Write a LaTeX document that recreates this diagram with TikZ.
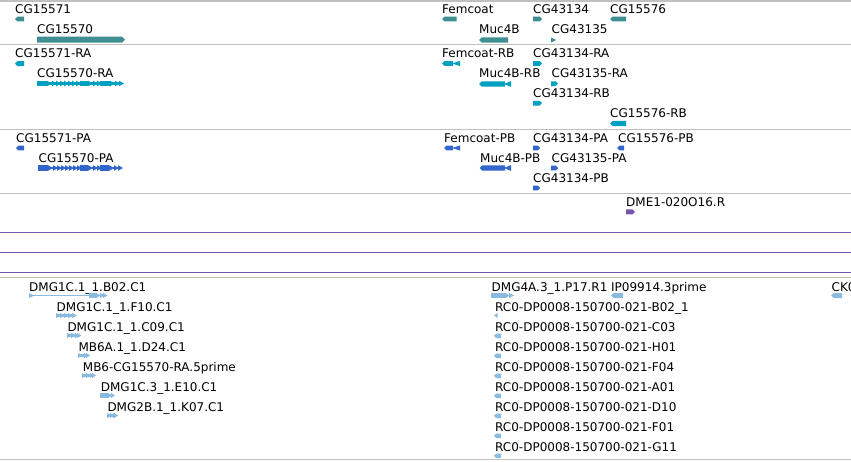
\documentclass[tikz,border=0pt]{standalone}
\usepackage{fontspec}
\setmainfont{DejaVu Sans}
\definecolor{gteal}{RGB}{62,142,146}
\definecolor{tcyan}{RGB}{0,160,192}
\definecolor{pblue}{RGB}{51,102,204}
\definecolor{mpurp}{RGB}{119,85,170}
\definecolor{estb}{RGB}{136,187,221}
\definecolor{sepg}{RGB}{192,192,192}
% right arrow: color, x1, x2, ymid, halfheight
\newcommand\rarr[5]{\fill[#1] (#2,#4-#5) -- (#3-#5,#4-#5) -- (#3,#4) -- (#3-#5,#4+#5) -- (#2,#4+#5) -- cycle;}
\newcommand\larr[5]{\fill[#1] (#3,#4-#5) -- (#2+#5,#4-#5) -- (#2,#4) -- (#2+#5,#4+#5) -- (#3,#4+#5) -- cycle;}
\newcommand\rtri[5]{\fill[#1] (#2,#4-#5) -- (#3,#4) -- (#2,#4+#5) -- cycle;}
\newcommand\ltri[5]{\fill[#1] (#3,#4-#5) -- (#2,#4) -- (#3,#4+#5) -- cycle;}
\newcommand\gblk[5]{\fill[#1] (#2,#4-#5) rectangle (#3,#4+#5);}
% chevrons: color, list of x, width, ymid, halfheight
\newcommand\chevs[5]{\foreach \xx in {#2}{\fill[#1] (\xx,#4-#5) -- (\xx+#3,#4) -- (\xx,#4+#5) -- cycle;}}
\begin{document}
\begin{tikzpicture}[x=1pt,y=-1pt,
  lbl/.style={anchor=base west, inner sep=0pt, font=\fontsize{12}{14}\selectfont},
  sepline/.style={draw=sepg, line width=1.2pt},
  pline/.style={draw=mpurp, line width=1.3pt}]
\clip (0,0) rectangle (851,461);
\fill[white] (0,0) rectangle (851,461);
% separators
\draw[sepline] (0,1) -- (851,1);
\draw[sepline] (0,44.5) -- (851,44.5);
\draw[sepline] (0,129.5) -- (851,129.5);
\draw[sepline] (0,193.5) -- (851,193.5);
\draw[pline] (0,232.3) -- (851,232.3);
\draw[pline] (0,252.3) -- (851,252.3);
\draw[pline] (0,272.3) -- (851,272.3);
\draw[sepline] (0,277.3) -- (851,277.3);
\draw[sepline] (0,459.5) -- (851,459.5);

% ---------- gene track ----------
\node[lbl] (g1) at (15,13.5) {CG15571};
\larr{gteal}{15}{24}{19}{2.3}
\node[lbl] (g2) at (37,33.5) {CG15570};
\rarr{gteal}{37}{125}{39.7}{3}
\node[lbl] (g3) at (442,13.5) {Femcoat};
\larr{gteal}{442}{456.5}{19}{2.3}
\node[lbl] (g4) at (479,33.5) {Muc4B};
\larr{gteal}{479}{508}{40}{2.7}
\node[lbl] (g5) at (533,13.5) {CG43134};
\rarr{gteal}{533}{542}{19}{2.3}
\node[lbl] (g6) at (551.5,33.5) {CG43135};
\rtri{gteal}{551}{556}{40}{2.5}
\node[lbl] (g7) at (610,13.5) {CG15576};
\larr{gteal}{610}{626}{19}{2.3}

% ---------- transcript track ----------
\node[lbl] (t1) at (15,57.5) {CG15571-RA};
\larr{tcyan}{15}{24}{63.5}{2.5}
\node[lbl] (t2) at (37,77.5) {CG15570-RA};
\gblk{tcyan}{37}{121}{83.5}{1.2}
\gblk{tcyan}{37}{47}{83.5}{2.8}
\gblk{tcyan}{80}{88}{83.5}{2.8}
\gblk{tcyan}{100}{110}{83.5}{2.8}
\chevs{tcyan}{47,52,56,60,64,68,72,76,88,93,97,110,115,119}{5}{83.5}{2.8}
\node[lbl] (t3) at (442,57.5) {Femcoat-RB};
\larr{tcyan}{442}{453}{63.5}{2.4}
\ltri{tcyan}{452}{460}{63.5}{2.6}
\node[lbl] (t4) at (479,77.5) {Muc4B-RB};
\larr{tcyan}{479}{505}{84}{2.7}
\ltri{tcyan}{504}{511}{84}{2.9}
\node[lbl] (t5) at (533,57.5) {CG43134-RA};
\rarr{tcyan}{533}{542}{63.5}{2.4}
\node[lbl] (t6) at (551.5,77.5) {CG43135-RA};
\rarr{tcyan}{551}{558}{83.7}{2.4}
\node[lbl] (t7) at (533,97.5) {CG43134-RB};
\rarr{tcyan}{533}{542}{103.2}{2.4}
\node[lbl] (t8) at (610,117.5) {CG15576-RB};
\larr{tcyan}{610}{626}{123.5}{2.7}

% ---------- protein track ----------
\node[lbl] (p1) at (16,142) {CG15571-PA};
\larr{pblue}{16}{24}{148}{2.4}
\node[lbl] (p2) at (38.5,162) {CG15570-PA};
\gblk{pblue}{38}{120}{168}{1.2}
\gblk{pblue}{38}{48}{168}{2.8}
\gblk{pblue}{80}{88}{168}{2.8}
\gblk{pblue}{100}{109}{168}{2.8}
\chevs{pblue}{48,53,57,61,65,69,73,77,88,93,97,109,114,118}{5}{168}{2.8}
\node[lbl] (p3) at (444,142) {Femcoat-PB};
\larr{pblue}{444}{453}{148}{2.4}
\ltri{pblue}{452}{460}{148}{2.6}
\node[lbl] (p4) at (480,162) {Muc4B-PB};
\larr{pblue}{479.5}{505}{168}{2.7}
\ltri{pblue}{504}{511}{168}{2.9}
\node[lbl] (p5) at (533,142) {CG43134-PA};
\rarr{pblue}{533}{540}{148}{2.4}
\node[lbl] (p6) at (618,142) {CG15576-PB};
\larr{pblue}{617}{624}{148}{2.4}
\node[lbl] (p7) at (551.5,162) {CG43135-PA};
\rarr{pblue}{551}{558}{168}{2.4}
\node[lbl] (p8) at (533,182) {CG43134-PB};
\rarr{pblue}{533}{540}{188}{2.4}

% ---------- DME1 track ----------
\node[lbl] (d1) at (626,206) {DME1-020O16.R};
\rarr{mpurp}{626}{635}{211.8}{2.5}

% ---------- EST track ----------
\node[lbl] (e1) at (29,291) {DMG1C.1\_1.B02.C1};
\draw[estb, line width=1pt] (29,295.5) -- (105,295.5);
\rtri{estb}{29}{34}{295.5}{2.5}
\gblk{estb}{89}{96}{295.5}{2.5}
\chevs{estb}{96,100,103}{4.5}{295.5}{2.6}
\node[lbl] (e2) at (56.5,311) {DMG1C.1\_1.F10.C1};
\gblk{estb}{56}{74}{315.5}{1.2}
\chevs{estb}{56,60,64,68,72}{5}{315.5}{2.6}
\node[lbl] (e3) at (67.3,331) {DMG1C.1\_1.C09.C1};
\gblk{estb}{67}{78}{335.5}{1.2}
\chevs{estb}{67,71,75,77}{4.5}{335.5}{2.6}
\node[lbl] (e4) at (78.3,351) {MB6A.1\_1.D24.C1};
\gblk{estb}{78}{87}{355.5}{1.2}
\chevs{estb}{78,84,86}{4}{355.5}{2.6}
\node[lbl] (e5) at (82.7,371) {MB6-CG15570-RA.5prime};
\gblk{estb}{82}{93}{375.5}{1.2}
\chevs{estb}{82,86,90,92}{4}{375.5}{2.6}
\node[lbl] (e6) at (100.7,391) {DMG1C.3\_1.E10.C1};
\gblk{estb}{100}{108}{395.5}{2.6}
\chevs{estb}{108,111}{4}{395.5}{2.6}
\node[lbl] (e7) at (107.3,411) {DMG2B.1\_1.K07.C1};
\gblk{estb}{107}{116}{415.5}{1.2}
\chevs{estb}{107,110,113,114}{4}{415.5}{2.6}

\node[lbl] (e8) at (491.5,291) {DMG4A.3\_1.P17.R1};
\gblk{estb}{491}{505}{295.5}{2.5}
\chevs{estb}{505,509}{5}{295.5}{2.7}
\node[lbl] (e9) at (611,291) {IP09914.3prime};
\larr{estb}{611}{623}{295.5}{2.5}
\node[lbl] (e10) at (831.5,291) {CK0};
\larr{estb}{831}{842}{295.5}{2.5}

\node[lbl] (r1) at (495,311) {RC0-DP0008-150700-021-B02\_1};
\ltri{estb}{494}{497.5}{315.5}{2.3}
\node[lbl] (r2) at (495,331) {RC0-DP0008-150700-021-C03};
\larr{estb}{494}{501}{335.8}{2.3}
\node[lbl] (r3) at (495,351) {RC0-DP0008-150700-021-H01};
\larr{estb}{494}{501}{355.8}{2.3}
\node[lbl] (r4) at (495,371) {RC0-DP0008-150700-021-F04};
\larr{estb}{494}{501}{375.8}{2.3}
\node[lbl] (r5) at (495,391) {RC0-DP0008-150700-021-A01};
\larr{estb}{494}{501}{395.8}{2.3}
\node[lbl] (r6) at (495,411) {RC0-DP0008-150700-021-D10};
\larr{estb}{494}{501}{415.8}{2.3}
\node[lbl] (r7) at (495,431) {RC0-DP0008-150700-021-F01};
\larr{estb}{494}{501}{435.8}{2.3}
\node[lbl] (r8) at (495,451) {RC0-DP0008-150700-021-G11};
\larr{estb}{494}{501}{455.8}{2.3}
\end{tikzpicture}
\end{document}
